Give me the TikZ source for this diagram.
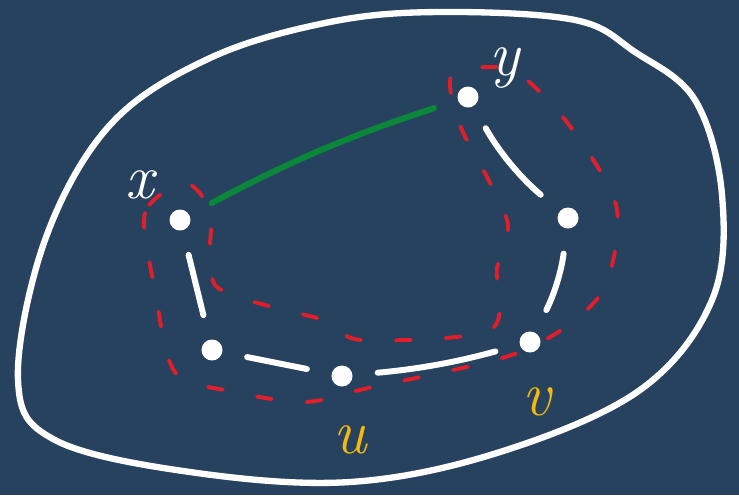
\documentclass[tikz,border=0pt]{standalone}
\usepackage{tikz}
\usetikzlibrary{arrows.meta,positioning,calc}
\usepackage{xcolor}
\definecolor{board}{RGB}{39,66,95}
\definecolor{chalkred}{RGB}{226,30,42}
\definecolor{chalkgreen}{RGB}{10,135,58}
\definecolor{chalkyellow}{RGB}{245,185,10}

\begin{document}
\begin{tikzpicture}[x=0.02cm, y=-0.02cm,
    vtx/.style={circle, fill=white, inner sep=0pt, minimum size=0.42cm},
    edge/.style={draw=white, line width=3.4pt, line cap=round, shorten <=0.5cm, shorten >=0.5cm},
    hedge/.style={draw=chalkgreen, line width=3.4pt, line cap=round, shorten <=0.5cm, shorten >=0.5cm},
    blob/.style={draw=white, line width=3.6pt},
    band/.style={draw=chalkred, line width=2.2pt, dash pattern=on 0.3cm off 0.7cm, line cap=round},
    lbl/.style={font=\fontsize{36}{38}\selectfont\itshape, inner sep=0pt}
]
\fill[board] (0,0) rectangle (739,495);
\useasboundingbox (0,0) rectangle (739,495);

% outer set
\draw[blob] plot[smooth cycle, tension=0.6] coordinates {
    (440,12) (330,22) (210,58) (110,125) (45,240) (18,380) (55,440)
    (190,472) (350,482) (500,452) (640,390) (712,300) (722,195)
    (695,100) (635,52) (575,20)};

% dashed band round the path
\draw[band] plot[smooth cycle, tension=0.5] coordinates {
    (185,183) (145,213) (155,290) (175,372) (235,392) (305,402) (368,388)
    (520,352) (600,295) (617,210) (580,140) (540,92) (505,68) (452,75)
    (460,125) (487,177) (508,225) (497,268) (490,330) (362,340)
    (330,322) (285,310) (248,300) (215,285) (210,250) (210,210)};

% vertices
\node[vtx] (x) at (180,220) {};
\node[vtx] (y) at (468,97) {};
\node[vtx] (a) at (568,218) {};
\node[vtx] (v) at (530,342) {};
\node[vtx] (u) at (342,376) {};
\node[vtx] (d) at (212,350) {};

\draw[edge] (x) -- (d);
\draw[edge] (d) -- (u);
\draw[edge] (u) to[bend right=5] (v);
\draw[edge] (v) to[bend right=10] (a);
\draw[edge] (a) to[bend left=10] (y);
\draw[hedge] (x) to[bend left=5] (y);

% labels
\node[lbl, text=white] (xl) at (140,185) {x};
\node[lbl, text=white] (yl) at (505,68) {y};
\node[lbl, text=chalkyellow] (ul) at (350,440) {u};
\node[lbl, text=chalkyellow] (vl) at (537,402) {v};
\end{tikzpicture}
\end{document}
